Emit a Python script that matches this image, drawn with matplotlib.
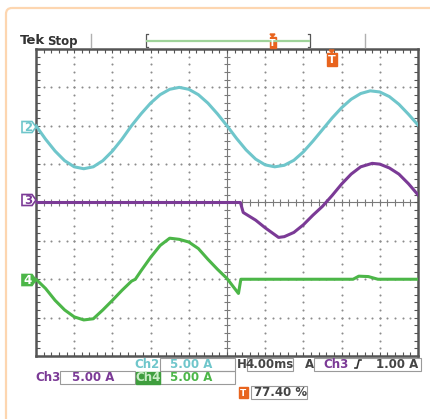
import numpy as np
import matplotlib.pyplot as plt
from matplotlib.patches import Polygon, Rectangle, FancyBboxPatch

plt.rcParams['font.family'] = ['DejaVu Sans']

# --- scope settings ---
ms_per_div = 4.0
amps_per_div = 5.0
trig_pct = 77.40

# --- traces: time in ms, current in A ---
ch2_t = [0, 1, 2, 3, 4, 5, 6, 7, 8, 9, 10, 11, 12, 13, 14, 15, 16, 17, 18, 19, 20,
         21, 22, 23, 24, 25, 26, 27, 28, 29, 30, 31, 32, 33, 34, 35, 36, 37, 38, 39, 40]
ch2_i = [0, -1.75, -3.3, -4.55, -5.35, -5.6, -5.35, -4.55, -3.3, -1.75, 0,
         1.55, 2.95, 4.05, 4.75, 5.0, 4.75, 4.05, 2.95, 1.55, 0,
         -1.65, -3.15, -4.35, -5.1, -5.35, -5.15, -4.5, -3.4, -2.0, -0.5,
         1.0, 2.35, 3.45, 4.2, 4.55, 4.4, 3.8, 2.8, 1.5, 0.1]

ch3_t = [0, 21.4, 21.7, 23, 24, 25.4, 26, 27, 28, 29, 30, 31, 32, 33, 34, 35.2, 36, 37, 38, 39, 40]
ch3_i = [0, 0, -1.3, -2.3, -3.3, -4.55, -4.45, -3.9, -2.9, -1.65, -0.5,
         0.9, 2.4, 3.7, 4.65, 5.1, 5.0, 4.5, 3.7, 2.45, 1.0]

ch4_t = [0, 1, 2, 3, 4, 5, 6, 7, 8, 9, 10, 10.4, 11, 12, 13, 14, 15, 16, 17, 18, 19, 20,
         21.2, 21.45, 33.2, 33.8, 34.8, 35.8, 40]
ch4_i = [0, -1.2, -2.75, -4.0, -4.9, -5.3, -5.15, -4.0, -2.75, -1.45, -0.25, 0, 1.1,
         2.85, 4.4, 5.35, 5.2, 4.85, 4.0, 2.6, 1.3, 0.1,
         -1.85, 0, 0, 0.4, 0.35, 0, 0]

# channel baselines in divisions from screen centre
ch2_pos, ch3_pos, ch4_pos = 2, 0, -2

cyan = '#6fc6cb'
purple = '#7b3a96'
green = '#4cb648'
orange = '#e8641e'
grid_c = '#8c8c8c'
frame_c = '#555555'

W, H = 430, 419
fig = plt.figure(figsize=(W / 100, H / 100), dpi=100)
fig.patch.set_facecolor('white')

# --- scope screen ---
ax = fig.add_axes([36 / W, 1 - 356 / H, 382 / W, 307 / H])
ax.set_xlim(0, 10)
ax.set_ylim(-4, 4)
ax.set_xticks([])
ax.set_yticks([])
for s in ax.spines.values():
    s.set_color(frame_c)
    s.set_linewidth(1.8)

# dotted graticule
fine_x = np.arange(0, 10.01, 0.2)
fine_y = np.arange(-4, 4.01, 0.2)
for gx in [1, 2, 3, 4, 6, 7, 8, 9]:
    ax.scatter(np.full(len(fine_y), gx), fine_y, s=2.2, color=grid_c, lw=0, zorder=1)
for gy in [-3, -2, -1, 1, 2, 3]:
    ax.scatter(fine_x, np.full(len(fine_x), gy), s=2.2, color=grid_c, lw=0, zorder=1)

# centre cross with minor ticks
ax.axvline(5, color='#7a7a7a', lw=0.8, zorder=1)
ax.axhline(0, color='#7a7a7a', lw=0.8, zorder=1)
ax.vlines(fine_x, -0.09, 0.09, color='#7a7a7a', lw=0.8, zorder=1)
ax.hlines(fine_y, 4.91, 5.09, color='#7a7a7a', lw=0.8, zorder=1)
# border ticks
ax.vlines(fine_x, 3.9, 4, color=frame_c, lw=0.8)
ax.vlines(fine_x, -4, -3.9, color=frame_c, lw=0.8)
ax.hlines(fine_y, 0, 0.1, color=frame_c, lw=0.8)
ax.hlines(fine_y, 9.9, 10, color=frame_c, lw=0.8)

# traces
def to_div(t, i, pos):
    return np.array(t) / ms_per_div, np.array(i) / amps_per_div + pos

for t, i, pos, c in [(ch2_t, ch2_i, ch2_pos, cyan),
                     (ch3_t, ch3_i, ch3_pos, purple),
                     (ch4_t, ch4_i, ch4_pos, green)]:
    xd, yd = to_div(t, i, pos)
    ax.plot(xd, yd, color=c, lw=2.2, solid_joinstyle='round', zorder=3)

# --- overlay in pixel coordinates for the scope decorations ---
ov = fig.add_axes([0, 0, 1, 1], zorder=5)
ov.set_xlim(0, W)
ov.set_ylim(H, 0)
ov.axis('off')
ov.patch.set_alpha(0)

ov.add_patch(FancyBboxPatch((6, 8), 440, 430, boxstyle='round,pad=0,rounding_size=6',
                            fill=False, ec='#fdd6b0', lw=1.6))

# top status bar
ov.text(20, 41, 'Tek', fontsize=9.5, fontweight='bold', color='#333333', va='center')
ov.text(47, 41, 'Stop', fontsize=8.5, fontweight='semibold', color='#333333', va='center')
for bx in [91, 365]:
    ov.plot([bx, bx], [34, 47], color='#b0b0b0', lw=1)
ov.plot([148, 146, 146, 148], [34, 34, 47, 47], color='#555555', lw=0.9)
ov.plot([308, 310, 310, 308], [34, 34, 47, 47], color='#555555', lw=0.9)
ov.plot([147, 309], [41, 41], color='#9fd39a', lw=1.6)

def trig_marker(cx, top, w, h):
    ov.add_patch(Polygon([(cx - 2.5, top), (cx + 2.5, top), (cx, top + 3)], color=orange))
    ov.add_patch(Rectangle((cx - w / 2, top + 3), w, h, color=orange))
    ov.text(cx, top + 3 + h / 2 + 0.5, 'T', fontsize=h * 0.62, fontweight='bold',
            color='white', ha='center', va='center')

trig_marker(272.5, 34, 6, 11)
trig_x = 36 + 382 * trig_pct / 100
trig_marker(trig_x, 50, 10, 13)

# channel markers on the left
def ch_marker(label, y, c, filled):
    pts = [(22, y - 5.5), (32, y - 5.5), (36, y), (32, y + 5.5), (22, y + 5.5)]
    ov.add_patch(Polygon(pts, closed=True, fc=c if filled else 'white', ec=c, lw=1.2))
    ov.text(28, y + 0.5, label, fontsize=8.5, fontweight='bold',
            color='white' if filled else c, ha='center', va='center')

ch_marker('2', 127, cyan, False)
ch_marker('3', 200, purple, False)
ch_marker('4', 280, green, True)

# readout boxes
box_c = '#9a9a9a'
def box(x0, x1, y0, y1):
    ov.add_patch(Rectangle((x0, y0), x1 - x0, y1 - y0, fill=False, ec=box_c, lw=0.8))

fs = 8.5
r1, r2, r3 = 364, 377.5, 392.5
box(160, 235, 358, 371)
box(247, 293, 358, 371)
box(314, 421, 358, 371)
box(60, 135, 371, 384)
box(160, 235, 371, 384)
box(251, 307, 386, 399)

ov.text(134, r1, 'Ch2', fontsize=fs, fontweight='bold', color=cyan, va='center')
ov.text(191, r1, '%.2f A' % amps_per_div, fontsize=fs, fontweight='bold', color=cyan,
        va='center', ha='center')
ov.text(237, r1, 'H', fontsize=fs, fontweight='bold', color='#444444', va='center')
ov.text(270, r1, '%.2fms' % ms_per_div, fontsize=fs, fontweight='bold', color='#444444',
        va='center', ha='center')
ov.text(305, r1, 'A', fontsize=fs, fontweight='bold', color='#444444', va='center')
ov.text(323, r1, 'Ch3', fontsize=fs, fontweight='bold', color=purple, va='center')
ov.plot([355, 357, 359, 361], [368, 368, 360, 360], color='#333333', lw=1.2)
ov.text(418, r1, '1.00 A', fontsize=fs, fontweight='bold', color='#444444',
        va='center', ha='right')

ov.text(35, r2, 'Ch3', fontsize=fs, fontweight='bold', color=purple, va='center')
ov.text(93, r2, '%.2f A' % amps_per_div, fontsize=fs, fontweight='bold', color=purple,
        va='center', ha='center')
ov.add_patch(Rectangle((136, 371.5), 24, 12, color='#3f9e3e'))
ov.text(148, r2, 'Ch4', fontsize=fs, fontweight='bold', color='#c9ecc5', va='center',
        ha='center')
ov.text(191, r2, '%.2f A' % amps_per_div, fontsize=fs, fontweight='bold', color=green,
        va='center', ha='center')

ov.add_patch(Rectangle((239, 387), 9, 11, color=orange))
ov.text(243.5, r3 + 0.5, 'T', fontsize=6.5, fontweight='bold', color='white',
        ha='center', va='center')
ov.text(254, r3, '%.2f %%' % trig_pct, fontsize=fs, fontweight='bold', color='#444444',
        va='center')

fig.savefig('out.png', dpi=100)
